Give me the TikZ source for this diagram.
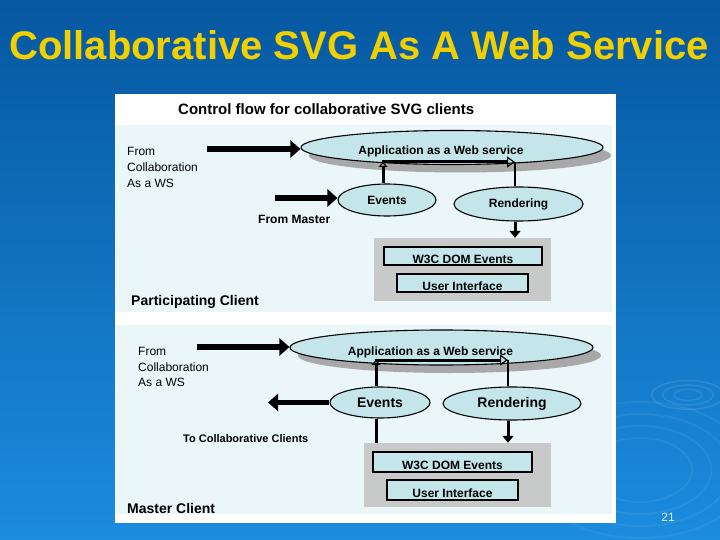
\documentclass[tikz,border=0pt]{standalone}
\usepackage{fontspec}
\setmainfont{Liberation Sans}
\usetikzlibrary{arrows.meta,shapes.geometric,shadows}
\definecolor{bgtop}{RGB}{6,88,160}
\definecolor{bgbot}{RGB}{28,140,222}
\definecolor{titleyel}{RGB}{242,208,0}
\definecolor{paneltint}{RGB}{234,246,248}
\definecolor{ellfill}{RGB}{196,230,234}
\definecolor{boxgray}{RGB}{200,201,201}
\definecolor{shadowgray}{RGB}{168,168,168}
\newcommand{\fsz}[1]{\fontsize{#1}{#1}\selectfont}
\newcommand{\lowtxt}[1]{\raisebox{-7.5pt}[0pt][0pt]{#1}}

\begin{document}
\begin{tikzpicture}[x=1pt, y=-1pt,
  ell/.style={ellipse, draw, line width=1.1pt, fill=ellfill, inner sep=0pt, font=\fsz{12}\bfseries},
  shd/.style={drop shadow={shadow xshift=8pt, shadow yshift=-8pt, fill=shadowgray, opacity=1}},
  gbox/.style={rectangle, fill=boxgray, inner sep=0pt},
  lbox/.style={rectangle, draw, line width=1.2pt, fill=ellfill, inner sep=0pt, font=\fsz{12}\bfseries},
  txt/.style={anchor=west, inner sep=0pt, font=\fsz{12}},
  fatarr/.style={line width=5.5pt, -{Triangle[length=10pt, width=17pt]}},
  loopln/.style={line width=3pt},
  downarr/.style={line width=3pt, -{Triangle[length=7pt, width=11pt]}}
]
\useasboundingbox (0,0) rectangle (720,540);
% slide background
\shade[top color=bgtop, bottom color=bgbot] (0,0) rectangle (720,540);
\foreach \r in {10,18,26} \draw[white, opacity=.1, line width=1.5pt] (688,395) ellipse ({\r*1.4} and \r*.55);
\foreach \r in {40,55,70,85} \draw[white, opacity=.06, line width=2pt] (640,470) ellipse ({\r*1.3} and \r*.8);
\node[font=\fsz{40}\bfseries, text=titleyel, inner sep=0pt] (title) at (359,45) {Collaborative SVG As A Web Service};
\node[font=\fsz{12}, text=white!85!cyan, inner sep=0pt] (pgno) at (668,517) {21};

% panel
\fill[white] (115,94) rectangle (616,523);
\fill[paneltint] (115,125) rectangle (612,312);
\fill[paneltint] (115,325) rectangle (612,514);
\node[font=\fsz{15}\bfseries, anchor=west, inner sep=0pt] (head) at (178,109) {Control flow for collaborative SVG clients};

% participating client
\node[ell, shd, minimum width=302pt, minimum height=34pt] (appP) at (452,147.5) {\hspace*{-22pt}\lowtxt{Application as a Web service}};
\node[ell, minimum width=98pt, minimum height=32pt] (evP) at (387,200) {Events};
\node[ell, minimum width=129pt, minimum height=34pt] (rdP) at (518.5,204) {Rendering};
\node[gbox, minimum width=177pt, minimum height=63pt] (guiP) at (462.5,269.5) {};
\node[lbox, minimum width=158pt, minimum height=18pt] (domP) at (463,256) {\lowtxt{W3C DOM Events}};
\node[lbox, minimum width=131pt, minimum height=18pt] (uiP) at (462.5,283) {\lowtxt{User Interface}};
\node[txt] (fromP) at (127,151) {From};
\node[txt] (collP) at (127,167) {Collaboration};
\node[txt] (wsP) at (127,183) {As a WS};
\node[txt, font=\fsz{12}\bfseries] (mastP) at (258,219) {From Master};
\node[txt, font=\fsz{14}\bfseries] (nameP) at (131,302) {Participating Client};
\coordinate (inP) at (207,149);
\coordinate (fmP) at (275,198);
\coordinate (tlP) at (383,162);
\coordinate (trP) at (515,162);
\draw[fatarr] (inP) -- (inP -| appP.west);
\draw[fatarr] (fmP) -- (fmP -| evP.west);
\draw[loopln, -{Triangle[open, length=5pt, width=9pt, line width=1pt]}] (tlP |- evP.north) -- (tlP);
\draw[loopln, -{Triangle[open, length=8pt, width=11pt, line width=1.2pt]}] ([xshift=-1.5pt]tlP) -- (trP);
\draw[line width=2pt] (trP) -- (trP |- rdP.north);
\draw[downarr] (trP |- rdP.south) -- (trP |- guiP.north);

% master client
\node[ell, shd, minimum width=303pt, minimum height=35pt] (appM) at (441.5,347.5) {\hspace*{-22pt}\lowtxt{Application as a Web service}};
\node[ell, font=\fsz{14}\bfseries, minimum width=100pt, minimum height=31pt] (evM) at (380,402.5) {Events};
\node[ell, font=\fsz{14}\bfseries, minimum width=138pt, minimum height=33pt] (rdM) at (512,403.5) {Rendering};
\node[gbox, minimum width=187pt, minimum height=64pt] (guiM) at (457.5,475) {};
\node[lbox, minimum width=159pt, minimum height=20pt] (domM) at (452.5,462) {\lowtxt{W3C DOM Events}};
\node[lbox, minimum width=131pt, minimum height=20pt] (uiM) at (452.5,490) {\lowtxt{User Interface}};
\node[txt] (fromM) at (138,351) {From};
\node[txt] (collM) at (138,367) {Collaboration};
\node[txt] (wsM) at (138,382) {As a WS};
\node[txt, font=\fsz{11}\bfseries] (toM) at (183,439) {To Collaborative Clients};
\node[txt, font=\fsz{14}\bfseries] (nameM) at (127,508) {Master Client};
\coordinate (inM) at (197,347);
\coordinate (outM) at (268,402.5);
\coordinate (tlM) at (376,360);
\coordinate (trM) at (508,360);
\draw[fatarr] (inM) -- (inM -| appM.west);
\draw[fatarr] (evM.west) -- (outM);
\draw[loopln] (tlM |- guiM.north) -- (tlM |- evM.south);
\draw[loopln, -{Triangle[open, length=5pt, width=9pt, line width=1pt]}] (tlM |- evM.north) -- (tlM);
\draw[loopln, -{Triangle[open, length=8pt, width=11pt, line width=1.2pt]}] ([xshift=-1.5pt]tlM) -- (trM);
\draw[line width=2pt] (trM) -- (trM |- rdM.north);
\draw[downarr] (trM |- rdM.south) -- (trM |- guiM.north);
\end{tikzpicture}
\end{document}
